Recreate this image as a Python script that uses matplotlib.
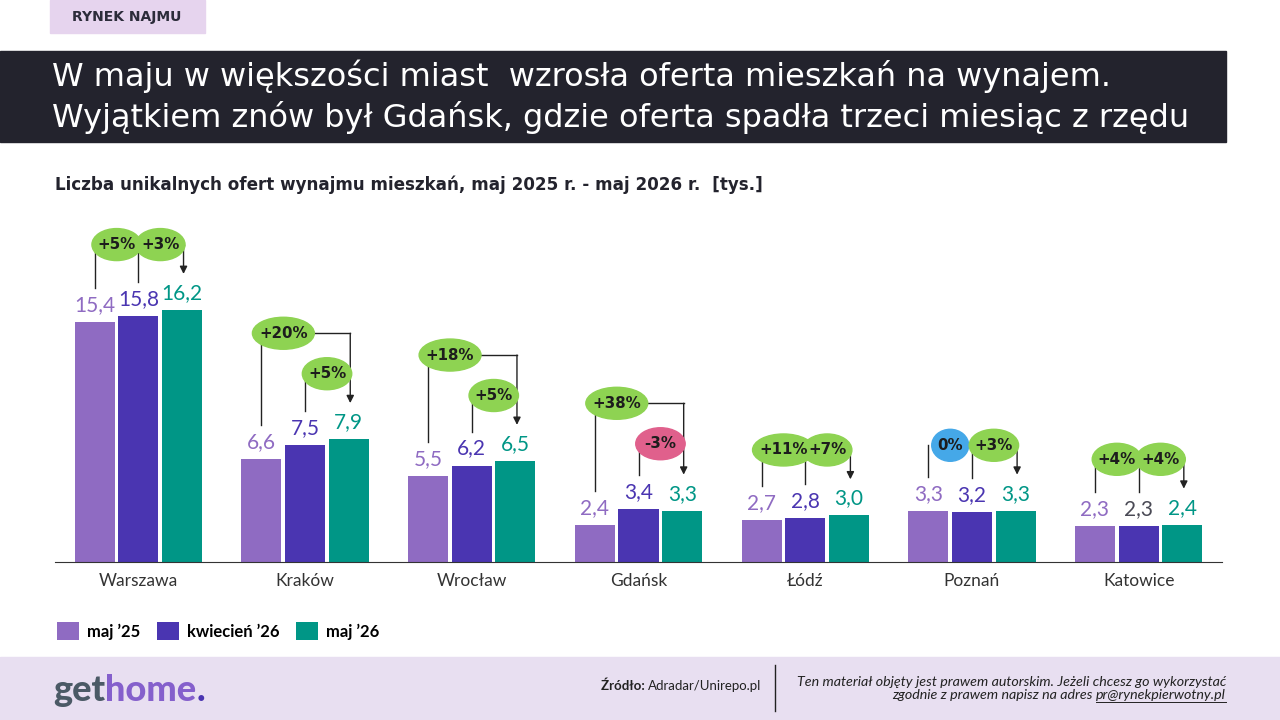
import matplotlib.pyplot as plt
from matplotlib.patches import Rectangle, Ellipse

cities = ['Warszawa', 'Kraków', 'Wrocław', 'Gdańsk', 'Łódź', 'Poznań', 'Katowice']
maj_25 = [15.4, 6.6, 5.5, 2.4, 2.7, 3.3, 2.3]
kwi_26 = [15.8, 7.5, 6.2, 3.4, 2.8, 3.2, 2.3]
maj_26 = [16.2, 7.9, 6.5, 3.3, 3.0, 3.3, 2.4]
zmiana_rr = ['+5%', '+20%', '+18%', '+38%', '+11%', '0%', '+4%']
zmiana_mm = ['+3%', '+5%', '+5%', '-3%', '+7%', '+3%', '+4%']
serie = ['maj \u201925', 'kwiecień \u201926', 'maj \u201926']

# uklad dymkow: jeden nad drugim (True) albo obok siebie (False)
pietrowo = [False, True, True, True, False, False, False]

kolory = ['#8f6bc2', '#4a35b1', '#009686']
ciemny = '#23232d'
plt.rcParams['font.family'] = ['Lato', 'DejaVu Sans']

fig = plt.figure(figsize=(12.8, 7.2), dpi=100)

# tlo w pikselach
bg = fig.add_axes([0, 0, 1, 1], zorder=-1)
bg.set_xlim(0, 1280)
bg.set_ylim(720, 0)
bg.axis('off')
bg.add_patch(Rectangle((50, 0), 155, 33, color='#e6d4ee'))
bg.text(127, 17, 'RYNEK NAJMU', ha='center', va='center', fontsize=10,
        fontweight='bold', color='#2c2c3a', family='DejaVu Sans')
bg.add_patch(Rectangle((0, 51), 1226, 91, color=ciemny))
bg.text(52, 76, 'W maju w większości miast  wzrosła oferta mieszkań na wynajem.',
        ha='left', va='center', fontsize=23, color='white', family='DejaVu Sans')
bg.text(52, 117, 'Wyjątkiem znów był Gdańsk, gdzie oferta spadła trzeci miesiąc z rzędu',
        ha='left', va='center', fontsize=23, color='white', family='DejaVu Sans')
bg.text(55, 185, 'Liczba unikalnych ofert wynajmu mieszkań, maj 2025 r. - maj 2026 r.  [tys.]',
        ha='left', va='center', fontsize=12.1, fontweight='bold', color=ciemny,
        family='DejaVu Sans')

# stopka
bg.add_patch(Rectangle((0, 657), 1280, 63, color='#e8dff1'))
t1 = bg.text(53, 701, 'get', ha='left', va='baseline', fontsize=26,
             fontweight='black', color='#4b5a66')
t2 = bg.annotate('home', xy=(1, 0), xycoords=t1, ha='left', va='bottom',
                 fontsize=26, fontweight='black', color='#8560cc')
bg.annotate('.', xy=(1, 0), xycoords=t2, ha='left', va='bottom',
            fontsize=26, fontweight='black', color='#4a35b1')
s2 = bg.text(761, 686, 'Adradar/Unirepo.pl', ha='right', va='center',
             fontsize=9.5, color='#222222')
bg.annotate('Źródło: ', xy=(0, 0.5), xycoords=s2, ha='right', va='center',
            fontsize=9.5, fontweight='bold', color='#222222')
bg.plot([775, 775], [665, 711], color='#222222', lw=1)
bg.text(1226, 682, 'Ten materiał objęty jest prawem autorskim. Jeżeli chcesz go wykorzystać',
        ha='right', va='center', fontsize=10.3, style='italic', color='#222222')
mail = bg.text(1226, 695, 'pr@rynekpierwotny.pl', ha='right', va='center',
               fontsize=10.3, style='italic', color='#222222')
bg.annotate('zgodnie z prawem napisz na adres ', xy=(0, 0.5), xycoords=mail,
            ha='right', va='center', fontsize=10.3, style='italic', color='#222222')

# wykres
px_x = 167.0
px_y = 15.56
ax = fig.add_axes([55 / 1280, 158 / 720, 1167 / 1280, 362 / 720])
ax.set_facecolor('none')
ax.set_xlim(-0.5, 6.5)
ax.set_ylim(0, 362 / px_y)
for s in ['top', 'left', 'right']:
    ax.spines[s].set_visible(False)
ax.spines['bottom'].set_color('#333333')
ax.set_yticks([])
ax.set_xticks(range(len(cities)), cities)
ax.tick_params(axis='x', length=0, pad=8, labelsize=12.5, labelcolor='#333333')

off = 0.262
szer = 0.24
dane = [maj_25, kwi_26, maj_26]
for k, vals in enumerate(dane):
    xs = [i + (k - 1) * off for i in range(len(cities))]
    ax.bar(xs, vals, width=szer, color=kolory[k], label=serie[k], zorder=2)
    for i, v in enumerate(vals):
        kol = kolory[k]
        if cities[i] == 'Katowice' and k == 1:
            kol = '#4a4a55'
        ax.text(xs[i], v + 17 / px_y, f'{v:.1f}'.replace('.', ','), ha='center',
                va='center', fontsize=15, color=kol)


def kolor_dymka(t):
    if t.startswith('-'):
        return '#e0608c'
    if t.startswith('0'):
        return '#45a8e8'
    return '#8ed352'


def dymek(x, y, t):
    w = (12 + 12.5 * len(t)) / px_x
    ax.add_patch(Ellipse((x, y), w, 32 / px_y, color=kolor_dymka(t), zorder=5,
                         clip_on=False))
    ax.text(x, y, t, ha='center', va='center', fontsize=10.8, fontweight='bold',
            color='#1d1d1d', zorder=6, clip_on=False, family='DejaVu Sans')


for i in range(len(cities)):
    x1, x2, x3 = i - off, i, i + off
    v1, v2, v3 = maj_25[i], kwi_26[i], maj_26[i]
    gora = max(v1, v2, v3)
    y_mm = gora + 4.2
    y_rr = gora + 6.8 if pietrowo[i] else y_mm
    cx_rr = x1 + 22 / px_x
    cx_mm = x2 + 22 / px_x
    ax.plot([x1, x1], [v1 + 34 / px_y, y_rr], color='#222222', lw=1, zorder=3)
    ax.plot([x2, x2], [v2 + 34 / px_y, y_mm], color='#222222', lw=1, zorder=3)
    xs_strz = x3 + 1.5 / px_x
    if pietrowo[i]:
        y_top, cx_top = y_rr, cx_rr
    else:
        y_top, cx_top = y_mm, cx_mm
    ax.plot([cx_top, xs_strz], [y_top, y_top], color='#222222', lw=1, zorder=3)
    ax.annotate('', xy=(xs_strz, v3 + 36 / px_y), xytext=(xs_strz, y_top),
                arrowprops=dict(arrowstyle='-|>', color='#222222', lw=1,
                                mutation_scale=11, shrinkA=0, shrinkB=0),
                zorder=3)
    dymek(cx_rr, y_rr, zmiana_rr[i])
    dymek(cx_mm, y_mm, zmiana_mm[i])

fig.legend(loc='upper left', bbox_to_anchor=(42 / 1280, 1 - 607 / 720), ncol=3,
           frameon=False, handlelength=1.3, handleheight=1.3, handletextpad=0.5,
           columnspacing=1.0, prop={'weight': 'bold', 'size': 12})

fig.canvas.draw()
bb = mail.get_window_extent()
bg.plot([bb.x0, bb.x1], [720 - bb.y0 + 1, 720 - bb.y0 + 1], color='#222222', lw=0.7)

fig.savefig('out.png', dpi=100)
